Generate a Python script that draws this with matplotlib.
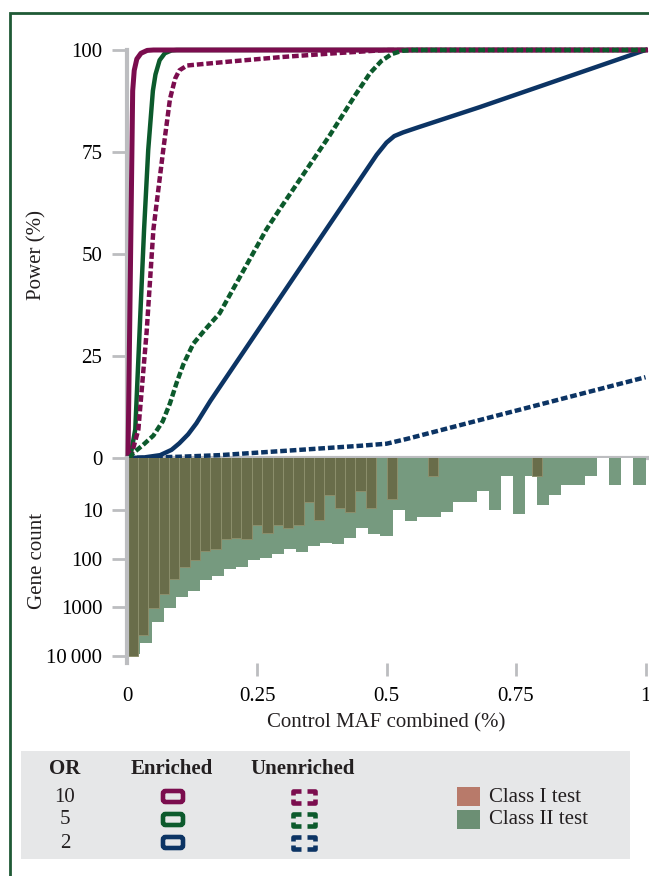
import matplotlib.pyplot as plt
import numpy as np
from matplotlib.patches import FancyBboxPatch, Rectangle
from matplotlib.ticker import NullLocator

plt.rcParams['font.family'] = ['Liberation Serif', 'DejaVu Serif']
plt.rcParams['font.size'] = 15
plt.rcParams['text.color'] = '#231f20'

# power curves: control MAF combined (%) -> power (%)
x_or10_enr = [0.001, 0.006, 0.010, 0.013, 0.018, 0.026, 0.038, 0.05, 1.0]
y_or10_enr = [0, 50, 90, 95, 97.8, 99.2, 99.9, 100, 100]
x_or5_enr = [0.005, 0.015, 0.032, 0.040, 0.049, 0.054, 0.062, 0.072, 0.085, 0.095, 1.0]
y_or5_enr = [0, 7, 56, 75.5, 90, 94, 97.5, 99.2, 99.9, 100, 100]
x_or2_enr = [0.0, 0.03, 0.063, 0.085, 0.10, 0.117, 0.133, 0.16, 0.243, 0.326, 0.384, 0.481, 0.50, 0.515, 0.532, 0.56, 0.68, 1.0]
y_or2_enr = [0, 0.1, 0.7, 2.0, 3.6, 5.8, 8.5, 14, 29.6, 45.2, 56.1, 74.3, 77.3, 78.9, 79.8, 81, 86, 100]
x_or10_unenr = [0.006, 0.021, 0.037, 0.05, 0.069, 0.082, 0.092, 0.10, 0.115, 0.2, 0.3, 0.4, 0.5, 1.0]
y_or10_unenr = [0, 7, 31, 56, 75.5, 88, 93, 95, 96.2, 97.2, 98.3, 99.2, 100, 100]
x_or5_unenr = [0.004, 0.011, 0.03, 0.05, 0.068, 0.082, 0.095, 0.108, 0.127, 0.15, 0.178, 0.268, 0.294, 0.39, 0.44, 0.468, 0.49, 0.51, 0.53, 0.55, 1.0]
y_or5_unenr = [0, 1.2, 3.2, 5.5, 9, 13.4, 18.5, 23, 28, 31.5, 35.5, 56, 61, 79, 89, 94.3, 97.3, 99, 99.8, 100, 100]
x_or2_unenr = [0.0, 0.1, 0.178, 0.333, 0.45, 0.5, 0.54, 0.75, 1.0]
y_or2_unenr = [0, 0.3, 0.7, 2.0, 3.0, 3.5, 4.7, 11.6, 19.8]

# gene counts per MAF bin
class1_counts = [9800, 3700, 1050, 525, 262, 150, 107, 69, 63, 39,
                 37, 39, 20, 30, 20, 24, 20, 7, 16, 5,
                 9, 11, 4, 9, 0, 6, 0, 0, 0, 2,
                 0, 0, 0, 0, 0, 0, 0, 0, 0, 2,
                 0, 0, 0, 0, 0, 0, 0, 0, 0, 0]
class2_counts = [9200, 5500, 1970, 1050, 600, 460, 280, 224, 166, 146,
                 107, 98, 80, 64, 73, 56, 48, 51, 38, 24,
                 31, 34, 10, 17, 14, 14, 11, 7, 7, 4,
                 10, 2, 12, 2, 8, 5, 3, 3, 2, 0,
                 3, 0, 3]

or_labels = ['10', '5', '2']
or_colors = ['#7b0d4e', '#0c5a2c', '#0c3464']
purple, green, navy = or_colors
gray = '#bcbdc0'
class1_color = '#b87a6a'
class2_color = '#769a7f'
overlap_color = '#696d4a'

W, H = 649, 876
fig = plt.figure(figsize=(W / 100, H / 100), dpi=100)


def box(left, top, right, bottom):
    return [left / W, 1 - bottom / H, (right - left) / W, (bottom - top) / H]


# ---- power panel
ax = fig.add_axes(box(127.5, 50, 645.5, 458))
ax.set_xlim(0, 1)
ax.set_ylim(0, 100)
for s in ['top', 'right', 'bottom']:
    ax.spines[s].set_visible(False)
ax.spines['left'].set_color(gray)
ax.spines['left'].set_linewidth(3)
ax.axhline(0, xmin=0, xmax=1.01, color=gray, lw=3, clip_on=False, zorder=1)
ax.set_xticks([])
ax.set_yticks([0, 25, 50, 75, 100])
ax.tick_params(axis='y', direction='out', length=11, width=2, color=gray, pad=7, labelsize=15)

lw = 3.2
dash = (1.5, 0.65)
ax.plot(x_or2_enr, y_or2_enr, color=navy, lw=lw, clip_on=False, solid_joinstyle='round', zorder=3)
ax.plot(x_or5_enr, y_or5_enr, color=green, lw=lw, clip_on=False, solid_joinstyle='round', zorder=3)
ax.plot(x_or10_enr, y_or10_enr, color=purple, lw=3.6, clip_on=False, solid_joinstyle='round', zorder=3)
ax.plot(x_or2_unenr, y_or2_unenr, color=navy, lw=lw, dashes=dash, clip_on=False, zorder=4)
ax.plot(x_or10_unenr, y_or10_unenr, color=purple, lw=lw, dashes=dash, clip_on=False, zorder=4)
ax.plot(x_or5_unenr, y_or5_unenr, color=green, lw=lw, dashes=dash, clip_on=False, zorder=4)

# ---- gene count panel
ax2 = fig.add_axes(box(127.5, 458, 645.5, 663))
ax2.set_yscale('log')
ax2.set_xlim(0, 1)
ax2.set_ylim(13930, 0.855)
n1, n2 = len(class1_counts), len(class2_counts)
ax2.bar(np.arange(n2) / n2, class2_counts, width=1 / n2, align='edge', color=class2_color, lw=0)
ax2.bar(np.arange(n1) / n1, class1_counts, width=1 / n1, align='edge', color=overlap_color,
        edgecolor='#8c8f6c', lw=0.7)
for s in ['top', 'right', 'bottom']:
    ax2.spines[s].set_visible(False)
ax2.spines['left'].set_color(gray)
ax2.spines['left'].set_linewidth(3)
ax2.set_yticks([10, 100, 1000, 10000])
ax2.set_yticklabels(['10', '100', '1000', '10\u2009000'])
ax2.yaxis.set_minor_locator(NullLocator())
ax2.tick_params(axis='y', direction='out', length=11, width=2, color=gray, pad=7, labelsize=15)
ax2.set_xticks([0, 0.25, 0.5, 0.75, 1])
ax2.set_xticklabels(['0', '0.25', '0.5', '0.75', '1'])
ax2.tick_params(axis='x', direction='out', length=9.5, width=2, color=gray, pad=7.5, labelsize=15)
ax2.xaxis.get_major_ticks()[0].tick1line.set_visible(False)

fig.text(37 / W, 1 - 255 / H, 'Power (%)', rotation=90, ha='center', va='center', fontsize=15)
fig.text(37 / W, 1 - 561 / H, 'Gene count', rotation=90, ha='center', va='center', fontsize=15)
fig.text(386 / W, 1 - 723 / H, 'Control MAF combined (%)', ha='center', va='center', fontsize=15)

# ---- frame and legend (pixel coordinates)
lg = fig.add_axes([0, 0, 1, 1], zorder=-1)
lg.set_xlim(0, W)
lg.set_ylim(H, 0)
lg.axis('off')
lg.plot([9.5, 9.5, W + 5], [H, 12.5, 12.5], color='#1f5a35', lw=2, solid_joinstyle='miter')
lg.add_patch(Rectangle((21, 751), 609, 108, color='#e6e7e8', lw=0))
lg.text(65, 769, 'OR', ha='center', va='center', fontweight='bold', fontsize=15)
lg.text(172, 769, 'Enriched', ha='center', va='center', fontweight='bold', fontsize=15)
lg.text(303, 769, 'Unenriched', ha='center', va='center', fontweight='bold', fontsize=15)
row_y = [797, 820, 843]
for lab, col, yy in zip(or_labels, or_colors, row_y):
    lg.text(65, yy, lab, ha='center', va='center', fontsize=15)
    lg.add_patch(FancyBboxPatch((163, yy - 6), 20, 11, boxstyle='round,pad=0,rounding_size=2.5',
                                facecolor='none', edgecolor=col, lw=3.3))
    x0, x1, y0, y1 = 293, 315, yy - 6, yy + 6
    for sx, ex, sy, ey in [(x0, x0 + 8, y0, y0 + 4), (x1, x1 - 8, y0, y0 + 4),
                           (x0, x0 + 8, y1, y1 - 4), (x1, x1 - 8, y1, y1 - 4)]:
        lg.plot([sx, sx, ex], [ey, sy, sy], color=col, lw=3.3, solid_capstyle='butt',
                solid_joinstyle='round')
lg.add_patch(Rectangle((457, 787), 23, 19, color=class1_color, lw=0))
lg.add_patch(Rectangle((457, 810), 23, 19, color='#6c8f74', lw=0))
lg.text(489, 797, 'Class I test', ha='left', va='center', fontsize=15)
lg.text(489, 820, 'Class II test', ha='left', va='center', fontsize=15)

fig.savefig('out.png', dpi=100)
